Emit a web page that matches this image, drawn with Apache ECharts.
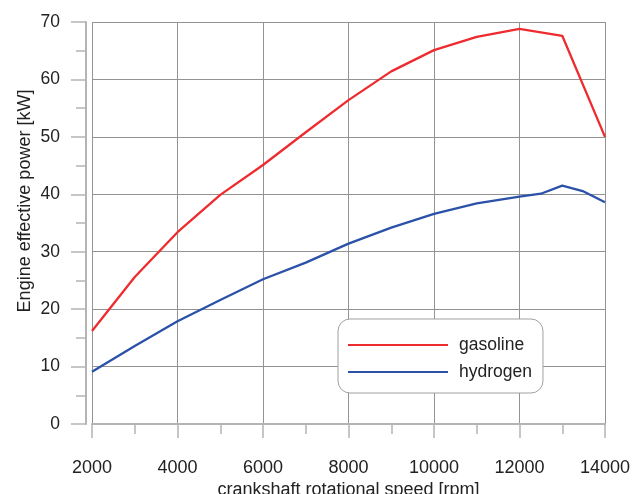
<!DOCTYPE html>
<html>
<head>
<meta charset="utf-8">
<script src="https://cdn.jsdelivr.net/npm/echarts@6/dist/echarts.min.js"></script>
<style>
html,body{margin:0;padding:0;background:#fff;}
#chart{width:639px;height:494px;}
</style>
</head>
<body>
<div id="chart"></div>
<script>
var gasRpm = [2000,3000,4000,5000,6000,7000,8000,9000,10000,11000,12000,13000,14000];
var gasPower = [16.2,25.6,33.4,39.9,45.1,50.8,56.4,61.4,65.1,67.4,68.8,67.6,50.0];
var hydRpm = [2000,3000,4000,5000,6000,7000,8000,9000,10000,11000,12000,12500,13000,13500,14000];
var hydPower = [9.1,13.6,17.9,21.6,25.2,28.1,31.4,34.2,36.6,38.4,39.6,40.1,41.5,40.5,38.6];
var seriesNames = ['gasoline','hydrogen'];
var seriesColors = ['#ee2b2e','#2b52a8'];
var xTitle = 'crankshaft rotational speed [rpm]';
var yTitle = 'Engine effective power [kW]';

function pairs(xs, ys){ return xs.map(function(x,i){ return [x, ys[i]]; }); }

var chart = echarts.init(document.getElementById('chart'), null, {renderer:'canvas'});
var axisGray = '#b4b4b4';
var font = 'Liberation Sans, Arial, sans-serif';
var lineIcon = 'path://M0,0H100V2H0Z';
chart.setOption({
  animation:false,
  backgroundColor:'#ffffff',
  grid:{left:92, right:34, top:22, bottom:70, containLabel:false, outerBoundsMode:'none'},
  legend:{
    orient:'vertical', left:338, top:319,
    data:seriesNames.map(function(n,i){ return {name:n, icon:lineIcon, itemStyle:{color:seriesColors[i]}}; }),
    itemWidth:102, itemHeight:2, itemGap:9,
    padding:[17,11,12,10],
    backgroundColor:'#ffffff', borderColor:'#a0a0a0', borderWidth:1, borderRadius:12,
    textStyle:{fontFamily:font, fontSize:17.5, color:'#222', padding:[0,0,0,5], lineHeight:17}
  },
  xAxis:{
    type:'value', min:2000, max:14000, interval:2000,
    offset:7,
    axisLine:{show:true, lineStyle:{color:axisGray, width:2}},
    axisTick:{show:true, length:14, lineStyle:{color:axisGray, width:1.5}},
    minorTick:{show:true, splitNumber:2, length:10, lineStyle:{color:axisGray, width:1.5}},
    splitLine:{show:true, lineStyle:{color:'#939393', width:1}},
    axisLabel:{margin:28, fontFamily:font, fontSize:18, color:'#222', formatter:function(v){return String(v);}},
    name:xTitle, nameLocation:'middle', nameGap:50, nameMoveOverlap:false,
    nameTextStyle:{fontFamily:font, fontSize:18, color:'#222'}
  },
  yAxis:{
    type:'value', min:0, max:70, interval:10,
    offset:6,
    axisLine:{show:true, lineStyle:{color:axisGray, width:2}},
    axisTick:{show:true, length:15, lineStyle:{color:axisGray, width:1.5}},
    minorTick:{show:true, splitNumber:2, length:10, lineStyle:{color:axisGray, width:1.5}},
    splitLine:{show:true, lineStyle:{color:'#939393', width:1}},
    axisLabel:{margin:26, fontFamily:font, fontSize:17.5, color:'#222', formatter:function(v){return String(v);}},
    name:yTitle, nameLocation:'middle', nameGap:52, nameRotate:90, nameMoveOverlap:false,
    nameTextStyle:{fontFamily:font, fontSize:18, color:'#222', padding:[0,0,0,44]}
  },
  series:[
    {name:seriesNames[0], type:'line', data:pairs(gasRpm,gasPower), symbol:'none',
     lineStyle:{color:seriesColors[0], width:2.3}, itemStyle:{color:seriesColors[0]}},
    {name:seriesNames[1], type:'line', data:pairs(hydRpm,hydPower), symbol:'none',
     lineStyle:{color:seriesColors[1], width:2.3}, itemStyle:{color:seriesColors[1]}}
  ]
});
</script>
</body>
</html>
